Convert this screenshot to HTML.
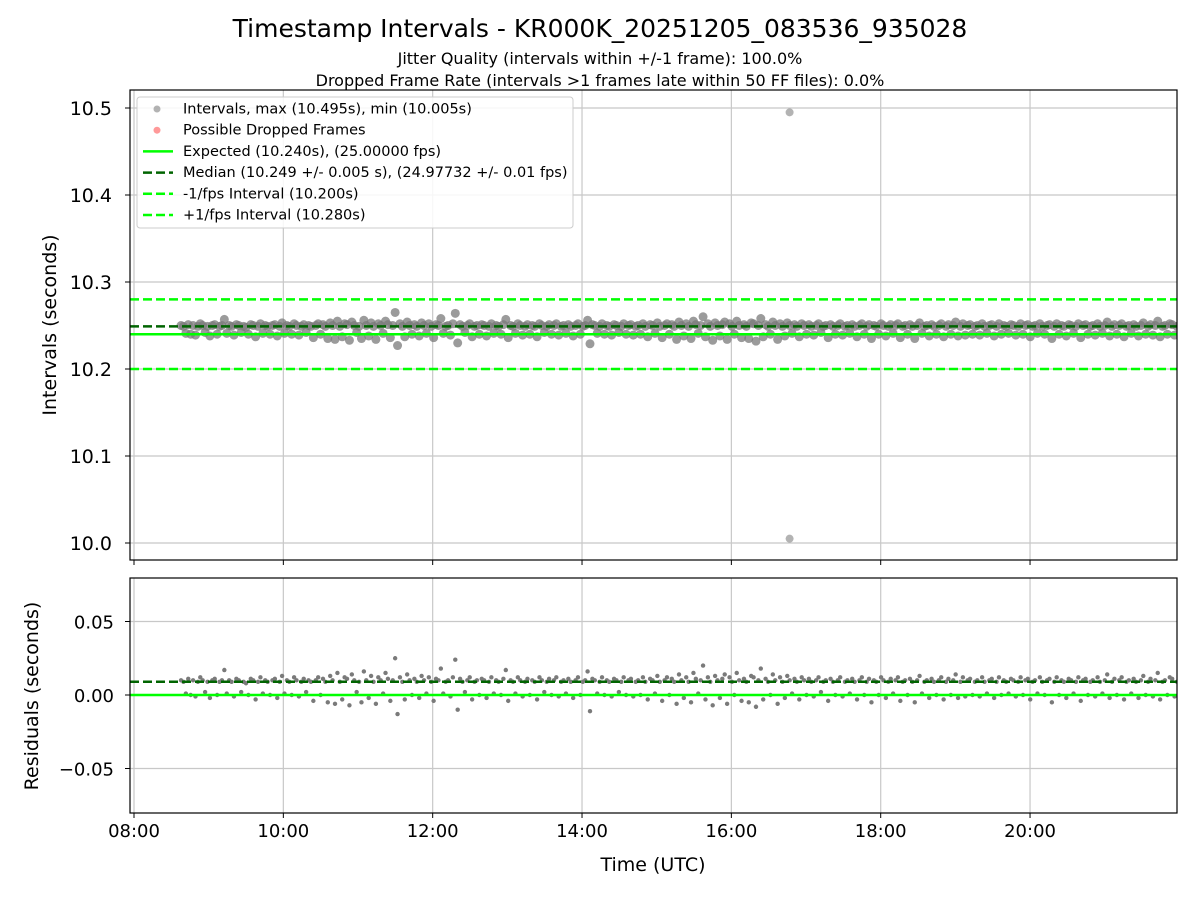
<!DOCTYPE html>
<html><head><meta charset="utf-8"><style>
body{margin:0;background:#fff;font-family:"DejaVu Sans","Liberation Sans",sans-serif}
svg text{font-family:"DejaVu Sans","Liberation Sans",sans-serif}
</style></head><body>
<svg id="c" width="1200" height="900" xmlns="http://www.w3.org/2000/svg"></svg>
<script>
// ---- data ----
const expectedInterval = 10.240;
const medianInterval = 10.249;
const minusFpsInterval = 10.200;
const plusFpsInterval = 10.280;
const startHour = 8.63;
const endHour = 22.0;
// residuals in milliseconds, one per sample
const residualsMs = [10,9,1,11,0,10,-1,9,12,10,2,9,-2,10,11,0,9,10,17,1,10,9,-1,11,10,2,9,8,0,11,10,-3,9,12,1,10,9,0,10,11,-2,9,13,1,10,9,0,12,10,-1,9,11,2,10,9,-4,10,12,0,11,
9,-5,13,10,-6,15,9,-3,12,11,-7,14,10,2,9,-5,16,10,-2,13,9,-6,12,10,1,15,11,-4,10,25,-13,12,9,-3,14,10,0,11,9,-2,13,10,1,12,9,-4,11,10,18,1,9,10,-1,12,24,-10,11,9,2,10,12,-3,9,10,
0,11,10,-2,9,12,1,10,9,0,11,17,-4,10,9,1,12,10,-1,9,11,0,10,9,-3,12,10,2,9,11,0,10,12,-1,9,10,1,11,9,-2,10,12,0,9,10,16,-11,11,10,1,9,12,0,10,9,-1,11,10,2,9,12,0,10,11,-1,9,10,0,
12,9,-3,11,10,1,13,9,-4,10,12,0,11,9,-6,14,10,-2,12,9,-5,15,11,1,10,20,-3,12,9,-7,13,10,-2,11,14,-6,12,9,0,15,10,-4,11,9,-5,13,12,-8,10,18,-3,11,9,0,14,10,-6,12,9,-2,13,10,1,11,
9,-3,12,10,0,11,9,-1,10,12,2,9,10,-4,11,9,0,10,12,-1,9,10,1,11,9,-3,10,12,0,9,11,-5,10,9,0,12,10,-2,9,11,1,10,12,-4,9,10,0,11,9,-5,10,13,1,9,10,-2,11,9,0,10,12,-3,9,11,0,10,14,-2,9,12,-1,10,
11,0,9,10,-1,12,9,1,10,11,-2,9,12,0,10,9,1,11,10,-1,9,12,0,10,11,-3,9,10,1,12,9,0,10,11,-5,9,12,0,10,9,-2,11,10,1,9,12,-4,10,11,0,9,10,-1,12,9,1,10,14,-2,9,11,0,10,12,-3,9,10,1,11,9,-2,10,13,0,9,11,-1,10,15,-3,9,10,0,12,11,-1,9,10];
const outlierHour = 16.78;
const outlierIntervals = [10.495, 10.005];
const xTickHours = [8,10,12,14,16,18,20];
const xTickLabels = ["08:00","10:00","12:00","14:00","16:00","18:00","20:00"];
const topTicks = [10.0,10.1,10.2,10.3,10.4,10.5];
const topTickLabels = ["10.0","10.1","10.2","10.3","10.4","10.5"];
const botTicks = [-0.05,0,0.05];
const botTickLabels = ["\u22120.05","0.00","0.05"];
const sampleStepHours = (endHour-startHour)/(residualsMs.length-1);

// ---- axes ----
const L=130,R=1177,T1=90,B1=560,T2=578,B2=813;
const xs=h=>134+(h-8)*74.67;
const yTop=v=>543-(v-10.0)*870;
const yBot=v=>695-v*1470;
const svg=document.getElementById('c');
const NS='http://www.w3.org/2000/svg';
function mk(tag,attrs,parent){const e=document.createElementNS(NS,tag);for(const k in attrs)e.setAttribute(k,attrs[k]);(parent||svg).appendChild(e);return e;}
function txt(s,attrs){const t=mk('text',attrs);t.textContent=s;return t;}

let e;
e=txt("Timestamp Intervals - KR000K_20251205_083536_935028",{x:600,y:37,'text-anchor':'middle','font-size':25});

e=txt("Jitter Quality (intervals within +/-1 frame): 100.0%",{x:600,y:64,'text-anchor':'middle','font-size':16});

e=txt("Dropped Frame Rate (intervals >1 frames late within 50 FF files): 0.0%",{x:600,y:86,'text-anchor':'middle','font-size':16});


const defs=mk('defs',{});
const c1=mk('clipPath',{id:'c1'},defs);mk('rect',{x:L,y:T1,width:R-L,height:B1-T1},c1);
const c2=mk('clipPath',{id:'c2'},defs);mk('rect',{x:L,y:T2,width:R-L,height:B2-T2},c2);

xTickHours.forEach((h,i)=>{
  e=mk('line',{x1:xs(h),x2:xs(h),y1:T1,y2:B1,stroke:'#c8c8c8','stroke-width':1.2});
  
  e=mk('line',{x1:xs(h),x2:xs(h),y1:T2,y2:B2,stroke:'#c8c8c8','stroke-width':1.2});
  
  mk('line',{x1:xs(h),x2:xs(h),y1:B1,y2:B1+5,stroke:'#000'});
  mk('line',{x1:xs(h),x2:xs(h),y1:B2,y2:B2+5,stroke:'#000'});
  e=txt(xTickLabels[i],{x:xs(h),y:B2+24,'text-anchor':'middle','font-size':18});
  
});
topTicks.forEach((v,i)=>{
  e=mk('line',{x1:L,x2:R,y1:yTop(v),y2:yTop(v),stroke:'#c8c8c8','stroke-width':1.2});
  
  mk('line',{x1:L-5,x2:L,y1:yTop(v),y2:yTop(v),stroke:'#000'});
  e=txt(topTickLabels[i],{x:L-18,y:yTop(v)+7,'text-anchor':'end','font-size':19});
  
});
botTicks.forEach((v,i)=>{
  e=mk('line',{x1:L,x2:R,y1:yBot(v),y2:yBot(v),stroke:'#c8c8c8','stroke-width':1.2});
  
  mk('line',{x1:L-5,x2:L,y1:yBot(v),y2:yBot(v),stroke:'#000'});
  e=txt(botTickLabels[i],{x:L-16,y:yBot(v)+7,'text-anchor':'end','font-size':18});
  
});

const g1=mk('g',{'clip-path':'url(#c1)'});

const g2=mk('g',{'clip-path':'url(#c2)'});

residualsMs.forEach((r,i)=>{
  const h=startHour+i*sampleStepHours;
  const p=mk('circle',{cx:xs(h),cy:yTop(expectedInterval+r/1000),r:4.5,fill:'#7a7a7a','fill-opacity':0.75},g1);
  
  const q=mk('circle',{cx:xs(h),cy:yBot(r/1000),r:2.2,fill:'#7a7a7a'},g2);
  
});
outlierIntervals.forEach(v=>{
  const p=mk('circle',{cx:xs(outlierHour),cy:yTop(v),r:4,fill:'#808080','fill-opacity':0.6},g1);
  
});

function hline(g,y,stroke,dash,name){const l=mk('line',{x1:L,x2:R,y1:y,y2:y,stroke:stroke,'stroke-width':2.5,'stroke-dasharray':dash||'none'},g);}
hline(g1,yTop(expectedInterval),'#00ff00',null,'expected-line');
hline(g1,yTop(medianInterval),'#006400','9,4','median-line');
hline(g1,yTop(minusFpsInterval),'#00ff00','9,4','minus-fps-line');
hline(g1,yTop(plusFpsInterval),'#00ff00','9,4','plus-fps-line');
hline(g2,yBot(0),'#00ff00',null,'residual-zero-line');
hline(g2,yBot(medianInterval-expectedInterval),'#006400','9,4','residual-median-line');

e=mk('rect',{x:L,y:T1,width:R-L,height:B1-T1,fill:'none',stroke:'#000','stroke-width':1.2});

e=mk('rect',{x:L,y:T2,width:R-L,height:B2-T2,fill:'none',stroke:'#000','stroke-width':1.2});


e=txt("Intervals (seconds)",{x:0,y:0,'text-anchor':'middle','font-size':19,transform:'translate(56,325) rotate(-90)'});

e=txt("Residuals (seconds)",{x:0,y:0,'text-anchor':'middle','font-size':19,transform:'translate(38,696) rotate(-90)'});

e=txt("Time (UTC)",{x:653,y:871,'text-anchor':'middle','font-size':19});


const lg=mk('g',{});

mk('rect',{x:137,y:97,width:436,height:131,rx:3,fill:'#fff','fill-opacity':0.85,stroke:'#ccc'},lg);
const items=[
 ['marker','#808080',"Intervals, max (10.495s), min (10.005s)"],
 ['marker','#ff5555',"Possible Dropped Frames"],
 ['solid','#00ff00',"Expected (10.240s), (25.00000 fps)"],
 ['dash','#006400',"Median (10.249 +/- 0.005 s), (24.97732 +/- 0.01 fps)"],
 ['dash','#00ff00',"-1/fps Interval (10.200s)"],
 ['dash','#00ff00',"+1/fps Interval (10.280s)"]];
items.forEach((it,i)=>{
  const y=109+i*21.2;
  const row=mk('g',{},lg);
  
  if(it[0]==='marker')mk('circle',{cx:157,cy:y,r:3.5,fill:it[1],'fill-opacity':0.6},row);
  else mk('line',{x1:143,x2:173,y1:y,y2:y,stroke:it[1],'stroke-width':2.5,'stroke-dasharray':it[0]==='dash'?'9,4':'none'},row);
  const t=mk('text',{x:183,y:y+4.5,'font-size':14.5},row);t.textContent=it[2];
});
</script>
</body></html>
